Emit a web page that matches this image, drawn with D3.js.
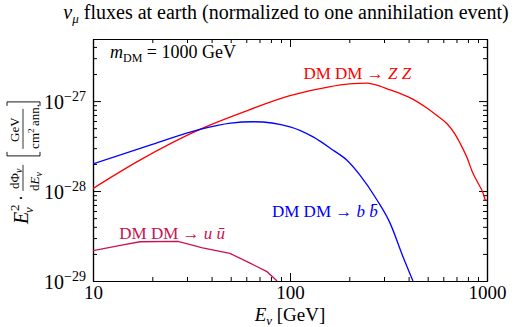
<!DOCTYPE html>
<html>
<head>
<meta charset="utf-8">
<script src="https://cdn.jsdelivr.net/npm/d3@7"></script>
<style>
  body { margin: 0; background: #fff; }
  svg text { font-family: "Times New Roman", "Liberation Serif", serif; }
</style>
</head>
<body>
<div id="chart"></div>
<script>
// energies in GeV, fluxes as E^2 dPhi/dE in GeV/(cm^2 ann)
const zzE    = [10, 17.3, 34.9, 55.7, 100, 158, 200, 245, 286, 322, 361, 420, 495, 557, 627, 688, 730, 795, 840, 900, 955, 980];
const zzFlux = [1.07e-28, 2.21e-28, 4.85e-28, 7.3e-28, 1.15e-27, 1.44e-27, 1.55e-27, 1.585e-27, 1.47e-27,
                1.33e-27, 1.22e-27, 1.05e-27, 8.36e-28, 6.9e-28, 5.6e-28, 4.3e-28, 3.4e-28,
                2.3e-28, 1.66e-28, 1.23e-28, 9.5e-29, 7.9e-29];

const bbE    = [10, 20, 34.9, 50, 65, 100, 131, 165, 194, 226, 277, 322, 375, 421];
const bbFlux = [2.0e-28, 3.3e-28, 4.85e-28, 5.69e-28, 5.89e-28, 5.18e-28, 4.0e-28, 2.86e-28,
                2.21e-28, 1.51e-28, 7.9e-29, 4.4e-29, 1.85e-29, 1.0e-29];

const uuE    = [10, 14, 17.3, 27, 36, 49.5, 62.7, 76.4, 86];
const uuFlux = [2.17e-29, 2.51e-29, 2.73e-29, 2.76e-29, 2.34e-29, 2.03e-29, 1.58e-29, 1.27e-29, 1.0e-29];

const xTicks = [10, 100, 1000];
const yTicks = [1e-29, 1e-28, 1e-27];
const yExp   = ['−29', '−28', '−27'];

const FONT = '"Times New Roman", "Liberation Serif", serif';
const W = 516, H = 327;
const margin = {top: 39, right: 29, bottom: 46, left: 93};
const width = W - margin.left - margin.right;
const height = H - margin.top - margin.bottom;

const svg = d3.select('#chart').append('svg')
  .attr('width', W).attr('height', H);

const chart = svg.append('g')
  .attr('transform', `translate(${margin.left}, ${margin.top})`);

const x = d3.scaleLog().domain([10, 1000]).range([0, width]);
const y = d3.scaleLog().domain([1e-29, 4.9e-27]).range([height, 0]);

// minor tick values 2..9 per decade
const minorX = [];
for (let d = 10; d < 1000; d *= 10) for (let k = 2; k <= 9; k++) minorX.push(d * k);
const minorY = [];
for (let d = 1e-29; d < 5e-27; d *= 10) for (let k = 2; k <= 9; k++) if (d * k <= 4.9e-27) minorY.push(d * k);

const MAJ = 8, MIN = 4;

function styleAxis(g) {
  g.attr('font-family', FONT);
  g.selectAll('path').attr('stroke', '#000').attr('stroke-width', 1.2);
  g.selectAll('line').attr('stroke', '#000').attr('stroke-width', 1);
}

// bottom
chart.append('g').attr('transform', `translate(0, ${height})`)
  .call(d3.axisBottom(x).tickValues(minorX).tickSizeInner(-MIN).tickSizeOuter(0).tickFormat(''))
  .call(styleAxis);
const xAxisG = chart.append('g').attr('transform', `translate(0, ${height})`)
  .call(d3.axisBottom(x).tickValues(xTicks).tickSizeInner(-MAJ).tickSizeOuter(0)
    .tickPadding(5).tickFormat(d3.format('d')))
  .call(styleAxis);
xAxisG.selectAll('text').attr('font-size', 19).attr('fill', '#000');
// top
chart.append('g')
  .call(d3.axisTop(x).tickValues(minorX).tickSizeInner(-MIN).tickSizeOuter(0).tickFormat(''))
  .call(styleAxis);
chart.append('g')
  .call(d3.axisTop(x).tickValues(xTicks).tickSizeInner(-MAJ).tickSizeOuter(0).tickFormat(''))
  .call(styleAxis);
// left
chart.append('g')
  .call(d3.axisLeft(y).tickValues(minorY).tickSizeInner(-MIN).tickSizeOuter(0).tickFormat(''))
  .call(styleAxis);
const yAxisG = chart.append('g')
  .call(d3.axisLeft(y).tickValues(yTicks).tickSizeInner(-MAJ).tickSizeOuter(0).tickFormat(''))
  .call(styleAxis);
// right
chart.append('g').attr('transform', `translate(${width}, 0)`)
  .call(d3.axisRight(y).tickValues(minorY).tickSizeInner(-MIN).tickSizeOuter(0).tickFormat(''))
  .call(styleAxis);
chart.append('g').attr('transform', `translate(${width}, 0)`)
  .call(d3.axisRight(y).tickValues(yTicks).tickSizeInner(-MAJ).tickSizeOuter(0).tickFormat(''))
  .call(styleAxis);

// y tick labels 10^-n
yAxisG.selectAll('.tick').each(function(d, i) {
  const t = d3.select(this).append('text')
    .attr('x', -7).attr('dy', '0.35em')
    .attr('text-anchor', 'end').attr('fill', '#000')
    .attr('font-size', 20);
  t.append('tspan').text('10');
  t.append('tspan').attr('font-size', 14).attr('dy', -8).text(yExp[i]);
});

// curves
chart.append('clipPath').attr('id', 'plotclip')
  .append('rect').attr('width', width).attr('height', height);

const line = d3.line()
  .x(d => x(d[0]))
  .y(d => y(d[1]));

const series = [
  {e: zzE, f: zzFlux, color: '#ff0000', curve: d3.curveMonotoneX},
  {e: bbE, f: bbFlux, color: '#0000ff', curve: d3.curveMonotoneX},
  {e: uuE, f: uuFlux, color: '#cc1150', curve: d3.curveLinear}
];

const plot = chart.append('g').attr('clip-path', 'url(#plotclip)');
series.forEach(s => {
  plot.append('path')
    .datum(s.e.map((e, i) => [e, s.f[i]]))
    .attr('fill', 'none')
    .attr('stroke', s.color)
    .attr('stroke-width', 1.3)
    .attr('d', line.curve(s.curve));
});

// annotations
function label(px, py, color, parts) {
  const t = chart.append('text').attr('x', px).attr('y', py)
    .attr('fill', color).attr('font-size', 17);
  parts.forEach(p => {
    const ts = t.append('tspan').text(p.t);
    if (p.i) ts.attr('font-style', 'italic');
  });
  return t;
}

label(x(117), y(1.75e-27), '#ff0000', [
  {t: 'DM DM → '}, {t: 'Z Z', i: true}
]);
label(x(81), y(5.1e-29), '#0000ff', [
  {t: 'DM DM → '}, {t: 'b b̄', i: true}
]);
label(x(13.6), y(2.95e-29), '#cc1150', [
  {t: 'DM DM → '}, {t: 'u ū', i: true}
]);

// m_DM
const m = chart.append('text').attr('x', 17).attr('y', 19).attr('fill', '#000').attr('font-size', 18);
m.append('tspan').attr('font-style', 'italic').text('m');
m.append('tspan').attr('font-size', 12).attr('dy', 4).text('DM');
m.append('tspan').attr('dy', -4).text(' = 1000 GeV');

// title
const title = svg.append('text')
  .attr('x', 286).attr('y', 19).attr('text-anchor', 'middle')
  .attr('font-size', 20).attr('fill', '#000');
title.append('tspan').attr('font-style', 'italic').text('ν');
title.append('tspan').attr('font-style', 'italic').attr('font-size', 13).attr('dy', 4).text('μ');
title.append('tspan').attr('dy', -4).text(' fluxes at earth (normalized to one annihilation event)');

// x label
const xl = svg.append('text')
  .attr('x', margin.left + x(100)).attr('y', 321).attr('text-anchor', 'middle')
  .attr('font-size', 19).attr('fill', '#000');
xl.append('tspan').attr('font-style', 'italic').text('E');
xl.append('tspan').attr('font-style', 'italic').attr('font-size', 13).attr('dy', 4).text('ν');
xl.append('tspan').attr('dy', -4).text(' [GeV]');

// y label: built horizontally then rotated
const yl = svg.append('g');
let cx = 0;
function put(txt, px, py, size, italic) {
  const t = yl.append('text').attr('x', px).attr('y', py).attr('font-size', size)
    .attr('fill', '#000').text(txt);
  if (italic) t.attr('font-style', 'italic');
  return t.node().getComputedTextLength();
}
// E_nu^2
let w = put('E', cx, 0, 20, true);
put('2', cx + w + 1, -9, 13, false);
put('ν', cx + w - 1, 5, 13, true);
cx += w + 9;
w = put('·', cx + 2, -1, 18, false);
cx += w + 6;
// dPhi/dE fraction
const f1Start = cx;
const n1 = put('dΦ', cx + 2, -9, 13, false);
put('ν', cx + 2 + n1, -6, 10, true);
const d1a = put('d', cx, 11, 13, false);
const d1b = put('E', cx + d1a, 11, 13, true);
put('ν', cx + d1a + d1b, 14, 10, true);
const f1w = 26;
yl.append('line').attr('x1', f1Start).attr('x2', f1Start + f1w)
  .attr('y1', -5).attr('y2', -5).attr('stroke', '#000').attr('stroke-width', 0.8);
cx += f1w + 9;
// bracket fraction
const bl = cx;
yl.append('path').attr('d', `M${bl + 4},-21 H${bl} V12 H${bl + 4}`)
  .attr('fill', 'none').attr('stroke', '#000').attr('stroke-width', 0.9);
cx += 7;
put('GeV', cx + 7, -9, 13, false);
const dA = put('cm', cx, 11, 13, false);
put('2', cx + dA, 6, 9, false);
put('ann.', cx + dA + 7, 11, 13, false);
const f2w = 40;
yl.append('line').attr('x1', cx).attr('x2', cx + f2w)
  .attr('y1', -5).attr('y2', -5).attr('stroke', '#000').attr('stroke-width', 0.8);
cx += f2w + 3;
yl.append('path').attr('d', `M${cx},-21 H${cx + 4} V12 H${cx}`)
  .attr('fill', 'none').attr('stroke', '#000').attr('stroke-width', 0.9);
cx += 4;
yl.attr('transform', `translate(28, ${163 + cx / 2}) rotate(-90)`);
</script>
</body>
</html>
